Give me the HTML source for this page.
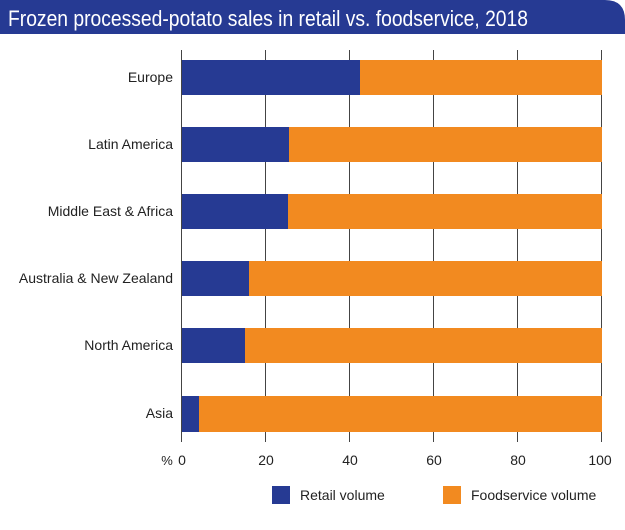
<!DOCTYPE html>
<html><head><meta charset="utf-8"><style>
body{margin:0;background:#fff;}
</style></head><body>
<svg width="625" height="525" xmlns="http://www.w3.org/2000/svg" font-family="Liberation Sans, sans-serif">
<path d="M0 0 H605 Q625 0 625 20 V34 H0 Z" fill="#263a93"/>
<text x="8" y="26" font-size="22" fill="#fff" textLength="520" lengthAdjust="spacingAndGlyphs">Frozen processed-potato sales in retail vs. foodservice, 2018</text>
<g stroke="#444" stroke-width="1">
<line x1="181.5" y1="50" x2="181.5" y2="442"/>
<line x1="265.5" y1="50" x2="265.5" y2="442"/>
<line x1="349.5" y1="50" x2="349.5" y2="442"/>
<line x1="433.5" y1="50" x2="433.5" y2="442"/>
<line x1="517.5" y1="50" x2="517.5" y2="442"/>
<line x1="601.5" y1="50" x2="601.5" y2="442"/>
</g>
<g>
<rect x="182" y="60" width="178" height="35" fill="#263a93"/><rect x="360" y="60" width="242" height="35" fill="#f28a20"/>
<rect x="182" y="127" width="107" height="35" fill="#263a93"/><rect x="289" y="127" width="313" height="35" fill="#f28a20"/>
<rect x="182" y="194" width="106" height="35" fill="#263a93"/><rect x="288" y="194" width="314" height="35" fill="#f28a20"/>
<rect x="182" y="261" width="67" height="35" fill="#263a93"/><rect x="249" y="261" width="353" height="35" fill="#f28a20"/>
<rect x="182" y="328" width="63" height="35" fill="#263a93"/><rect x="245" y="328" width="357" height="35" fill="#f28a20"/>
<rect x="182" y="396" width="17" height="36" fill="#263a93"/><rect x="199" y="396" width="403" height="36" fill="#f28a20"/>
</g>
<g font-size="14" fill="#222" text-anchor="end">
<text x="173" y="82">Europe</text>
<text x="173" y="149">Latin America</text>
<text x="173" y="216">Middle East &amp; Africa</text>
<text x="173" y="283">Australia &amp; New Zealand</text>
<text x="173" y="350">North America</text>
<text x="173" y="418">Asia</text>
</g>
<g font-size="14" fill="#222" text-anchor="middle">
<text x="167" y="465" font-size="13">%</text>
<text x="182" y="465">0</text>
<text x="266" y="465">20</text>
<text x="350" y="465">40</text>
<text x="434" y="465">60</text>
<text x="518" y="465">80</text>
<text x="600" y="465">100</text>
</g>
<rect x="272" y="486" width="18" height="18" fill="#263a93"/>
<text x="300" y="500" font-size="14" fill="#222">Retail volume</text>
<rect x="443" y="486" width="18" height="18" fill="#f28a20"/>
<text x="471" y="500" font-size="14" fill="#222">Foodservice volume</text>
</svg>
</body></html>
